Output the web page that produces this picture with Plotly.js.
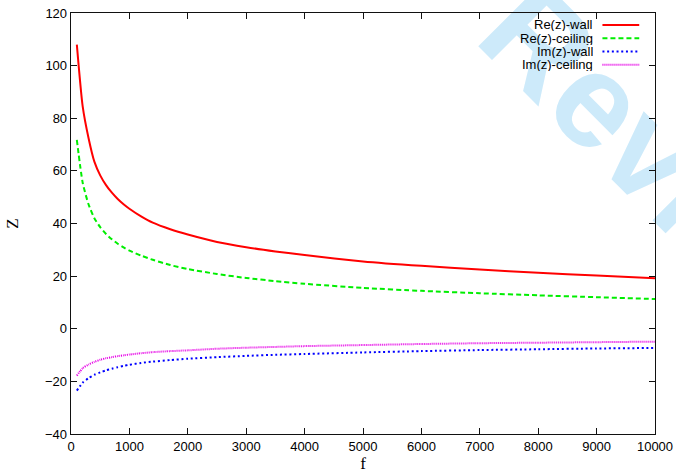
<!DOCTYPE html>
<html>
<head>
<meta charset="utf-8">
<script src="https://cdn.plot.ly/plotly-3.0.1.min.js"></script>
<style>
html,body{margin:0;padding:0;background:#fff;overflow:hidden;width:676px;height:474px;}
#wm{position:absolute;left:552px;top:-40px;font-family:'Liberation Sans',Arial,sans-serif;font-weight:bold;font-size:134px;line-height:1;color:#cdeafa;transform:rotate(45deg);transform-origin:0 0;white-space:nowrap;z-index:0;}
#plot{position:absolute;left:0;top:0;width:676px;height:474px;z-index:1;}
</style>
</head>
<body>
<div id="wm">Review</div>
<div id="plot"></div>
<script>
const freq = [100,200,300,400,500,600,700,800,900,1000,1200,1400,1700,2000,2500,3000,3500,4000,5000,6000,7000,8000,9000,10000];
const reWall = [108,84.5,72.5,63.5,58.3,54.6,51.7,49.3,47.3,45.6,42.7,40.3,37.8,35.8,33.0,31.0,29.4,28.0,25.6,23.9,22.5,21.3,20.2,19.2];
const reCeiling = [71.8,55.5,47.3,42.0,38.6,36.0,34.0,32.3,30.9,29.7,27.8,26.2,24.2,22.7,20.8,19.3,18.1,17.1,15.5,14.4,13.5,12.7,12.0,11.3];
const imWall = [-23.5,-20.5,-18.8,-17.5,-16.6,-15.8,-15.2,-14.6,-14.1,-13.7,-13.0,-12.5,-11.9,-11.4,-10.8,-10.3,-9.9,-9.6,-9.0,-8.5,-8.1,-7.8,-7.5,-7.3];
const imCeiling = [-17.8,-15.0,-13.6,-12.6,-11.8,-11.2,-10.8,-10.4,-10.1,-9.8,-9.3,-8.9,-8.5,-8.2,-7.6,-7.2,-6.9,-6.6,-6.2,-5.8,-5.5,-5.3,-5.1,-4.9];
const seriesNames = ["Re(z)-wall","Re(z)-ceiling","Im(z)-wall","Im(z)-ceiling"];
const xTitle = "f";
const yTitle = "Z";

const seriesData = [reWall, reCeiling, imWall, imCeiling];
const styles = [
  {color:'#ff0000', dash:'solid', width:2},
  {color:'#00ee00', dash:'5px,3px', width:2},
  {color:'#0000ff', dash:'2px,2.7px', width:2},
  {color:'#e600e6', dash:'1px,1px', width:2}
];

const traces = seriesData.map((ys,i)=>({
  x: freq, y: ys, type:'scatter', mode:'lines', name: seriesNames[i],
  line: {color: styles[i].color, dash: styles[i].dash, width: styles[i].width, shape:'spline', smoothing:0.6},
  showlegend: false
}));

// gnuplot-style key: text right-aligned, sample line to its right
const annotations = [];
const shapes = [];
const rowY = [0.9715, 0.9400, 0.9085, 0.8770];
seriesNames.forEach((n,i)=>{
  annotations.push({text:n, xref:'paper', yref:'paper', x:0.895, y:rowY[i], xanchor:'right', yanchor:'middle', showarrow:false, borderpad:0, height:13,
    font:{family:'Liberation Sans, Arial, sans-serif', size:13, color:'#000'}});
  shapes.push({type:'line', xref:'paper', yref:'paper', x0:0.910, x1:0.973, y0:rowY[i], y1:rowY[i],
    line:{color:styles[i].color, dash:styles[i].dash, width:styles[i].width}});
});

const tickFont = {family:'Liberation Sans, Arial, sans-serif', size:13, color:'#000'};
const layout = {
  width:676, height:474,
  margin:{l:71, r:21, t:13, b:40},
  paper_bgcolor:'rgba(0,0,0,0)', plot_bgcolor:'rgba(0,0,0,0)',
  showlegend:false,
  xaxis:{range:[0,10000], dtick:1000, tick0:0, tickformat:'d', ticks:'inside', ticklen:6, tickwidth:1, tickcolor:'#111',
    showline:true, linecolor:'#111', linewidth:1.3, mirror:'ticks', showgrid:false, zeroline:false,
    tickfont:tickFont, title:{text:xTitle, font:{family:'Liberation Serif, serif', size:17, color:'#000'}, standoff:4}, automargin:false},
  yaxis:{range:[-40,120], dtick:20, tick0:0, tickformat:'d', ticks:'inside', ticklen:6, tickwidth:1, tickcolor:'#111',
    showline:true, linecolor:'#111', linewidth:1.3, mirror:'ticks', showgrid:false, zeroline:false,
    tickfont:tickFont, title:{text:yTitle, font:{family:'Liberation Serif, serif', size:17, color:'#000'}, standoff:22}, automargin:false},
  annotations: annotations,
  shapes: shapes
};
Plotly.newPlot('plot', traces, layout, {staticPlot:true, displayModeBar:false});
</script>
</body>
</html>
